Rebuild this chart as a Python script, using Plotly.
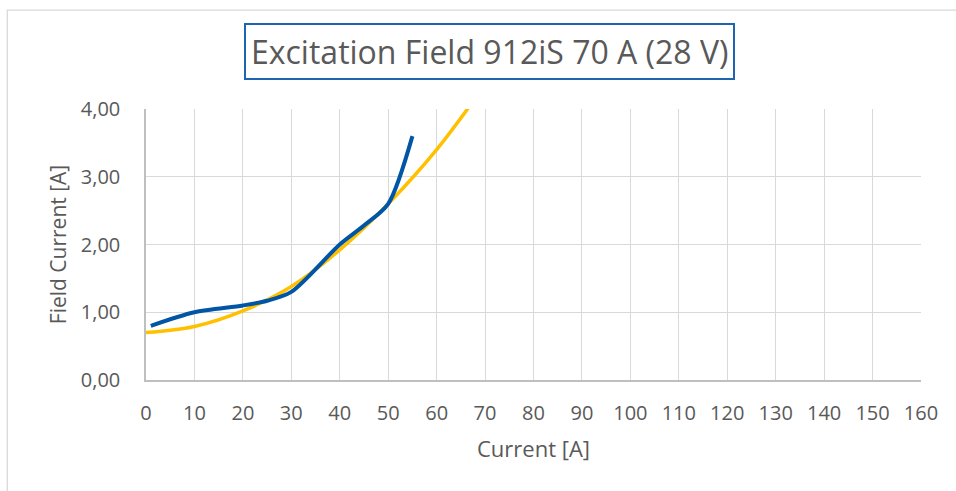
import plotly.graph_objects as go

current = [1, 10, 20, 25, 30, 40, 45, 50, 55]
field_current = [0.80, 1.00, 1.10, 1.17, 1.30, 2.00, 2.28, 2.60, 3.60]

trend_current = [0, 10, 20, 30, 40, 50, 60, 70]
trend_field = [0.70, 0.79, 1.02, 1.38, 1.92, 2.60, 3.40, 4.36]

x_ticks = list(range(0, 161, 10))
y_ticks = [0, 1, 2, 3, 4]

title_text = "Excitation Field 912iS 70 A (28 V)"
grey = "#595959"
font_family = "Open Sans, Noto Sans, sans-serif"

fig = go.Figure()
fig.add_trace(go.Scatter(
    x=trend_current, y=trend_field, mode="lines",
    line=dict(color="#FFC000", width=3.5, shape="spline", smoothing=1.0),
    showlegend=False, hoverinfo="skip"))
fig.add_trace(go.Scatter(
    x=current, y=field_current, mode="lines",
    line=dict(color="#0055A5", width=4, shape="spline", smoothing=0.8),
    showlegend=False))

fig.update_layout(
    width=956, height=491,
    margin=dict(l=146, r=35, t=109, b=111),
    paper_bgcolor="white", plot_bgcolor="white",
    separators=",.",
    font=dict(family=font_family, color=grey, size=20),
    xaxis=dict(
        range=[0, 160], tickvals=x_ticks, showgrid=True, gridcolor="#d9d9d9", gridwidth=1.3,
        showline=True, linecolor="#bfbfbf", linewidth=1.5, zeroline=False,
        ticks="outside", ticklen=14, tickcolor="rgba(0,0,0,0)",
        tickfont=dict(size=20, color=grey),
        title=dict(text="Current [A]", font=dict(size=22, color=grey), standoff=17),
    ),
    yaxis=dict(
        range=[0, 4], tickvals=y_ticks, tickformat=".2f", showgrid=True, gridcolor="#d9d9d9",
        gridwidth=1.3, showline=True, linecolor="#bfbfbf", linewidth=1.5, zeroline=False,
        ticks="outside", ticklen=20, tickcolor="rgba(0,0,0,0)",
        tickfont=dict(size=20, color=grey),
        title=dict(text="Field Current [A]", font=dict(size=21, color=grey), standoff=8),
    ),
    shapes=[dict(type="rect", xref="paper", yref="paper",
                 x0=-0.179, x1=1.2, y0=-0.5, y1=1.365,
                 line=dict(color="#d9d9d9", width=1.3), fillcolor="rgba(0,0,0,0)", layer="below")],
    annotations=[dict(
        text=title_text, xref="paper", yref="paper", x=(489 - 146) / 775, y=(380 - 52) / 271,
        xanchor="center", yanchor="middle", showarrow=False,
        font=dict(size=32, color=grey, family=font_family),
        bordercolor="#1F64B0", borderwidth=2, borderpad=5, bgcolor="white")],
)

fig.write_html("out.html")
